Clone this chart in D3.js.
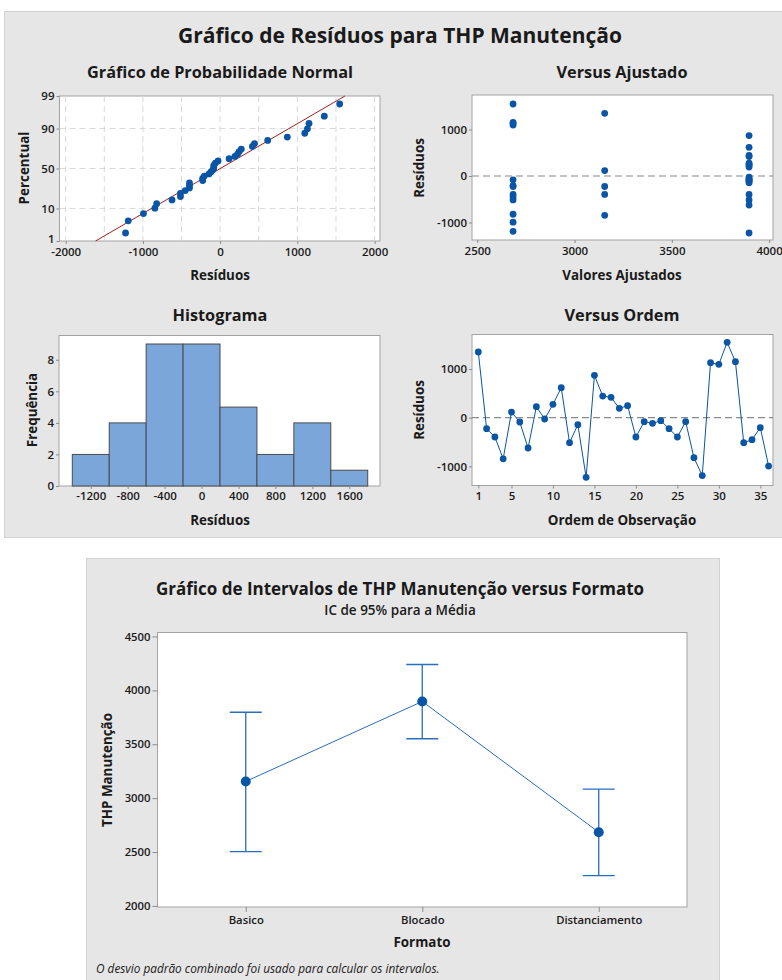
<!DOCTYPE html>
<html>
<head>
<meta charset="utf-8">
<script src="https://cdn.jsdelivr.net/npm/d3@7"></script>
<style>
  body { margin: 0; background: #ffffff; }
  svg { display: block; }
  text { font-family: "Open Sans", "Noto Sans", sans-serif; fill: #1a1a1a; }
</style>
</head>
<body>
<svg id="chart" width="782" height="980"></svg>
<script>
// Residuals in observation order (1..36)
const residuals = [
  1349, -226, -397, -845, 116,
  -89, -623, 226, -27, 274, 616, -514, -144, -1225, 870, 445, 418, 192, 247, -397, -82, -116, -62,
  -226, -397, -82, -822, -1190, 1130, 1096, 1548, 1151, -514, -452, -205, -993
];
// Group (index into formatos) of each observation
const obsGroup = [
  0, 0, 0, 0, 0,
  1, 1, 1, 1, 1, 1, 1, 1, 1, 1, 1, 1, 1, 1, 1, 1, 1, 1,
  2, 2, 2, 2, 2, 2, 2, 2, 2, 2, 2, 2, 2
];
const formatos = ["Basico", "Blocado", "Distanciamento"];
const formatMeans = [3155, 3897, 2684];
const ciLower = [2503, 3551, 2282];
const ciUpper = [3797, 4240, 3084];

const histEdges = [-1400, -1000, -600, -200, 200, 600, 1000, 1400, 1800];
const probTicks = [1, 10, 50, 90, 99];
const probGrid = [-2000, -1500, -1000, -500, 0, 500, 1000, 1500, 2000];
const probXTicks = [-2000, -1000, 0, 1000, 2000];
const fitXTicks = [2500, 3000, 3500, 4000];
const resTicks = [-1000, 0, 1000];
const histXTicks = [-1200, -800, -400, 0, 400, 800, 1200, 1600];
const histYTicks = [0, 2, 4, 6, 8];
const orderTicks = [1, 5, 10, 15, 20, 25, 30, 35];
const thpTicks = [2000, 2500, 3000, 3500, 4000, 4500];

const BLUE = "#0a55a6";
const FRAME = "#a3a3a3";
const PANEL = "#e6e6e6";

const svg = d3.select("#chart");

// Inverse standard normal CDF (Acklam)
function qnorm(p) {
  const a = [-3.969683028665376e+01, 2.209460984245205e+02, -2.759285104469687e+02, 1.383577518672690e+02, -3.066479806614716e+01, 2.506628277459239e+00];
  const b = [-5.447609879822406e+01, 1.615858368580409e+02, -1.556989798598866e+02, 6.680131188771972e+01, -1.328068155288572e+01];
  const c = [-7.784894002430293e-03, -3.223964580411365e-01, -2.400758277161838e+00, -2.549732539343734e+00, 4.374664141464968e+00, 2.938163982698783e+00];
  const d = [7.784695709041462e-03, 3.224671290700398e-01, 2.445134137142996e+00, 3.754408661907416e+00];
  const pl = 0.02425, ph = 1 - pl;
  let q, r;
  if (p < pl) {
    q = Math.sqrt(-2 * Math.log(p));
    return (((((c[0]*q+c[1])*q+c[2])*q+c[3])*q+c[4])*q+c[5]) / ((((d[0]*q+d[1])*q+d[2])*q+d[3])*q+1);
  } else if (p <= ph) {
    q = p - 0.5; r = q * q;
    return (((((a[0]*r+a[1])*r+a[2])*r+a[3])*r+a[4])*r+a[5])*q / (((((b[0]*r+b[1])*r+b[2])*r+b[3])*r+b[4])*r+1);
  } else {
    q = Math.sqrt(-2 * Math.log(1 - p));
    return -(((((c[0]*q+c[1])*q+c[2])*q+c[3])*q+c[4])*q+c[5]) / ((((d[0]*q+d[1])*q+d[2])*q+d[3])*q+1);
  }
}

// ---------- background panels ----------
svg.append("rect").attr("x", 4.5).attr("y", 11.5).attr("width", 790).attr("height", 526)
  .attr("fill", PANEL).attr("stroke", "#d2d2d2");
svg.append("rect").attr("x", 86.5).attr("y", 558.5).attr("width", 633).attr("height", 430)
  .attr("fill", PANEL).attr("stroke", "#d2d2d2");

svg.append("text").attr("x", 400).attr("y", 43).attr("text-anchor", "middle")
  .style("font-size", "21px").style("font-weight", 700)
  .text("Gráfico de Resíduos para THP Manutenção");

// ---------- helpers ----------
function frame(x0, x1, y0, y1) {
  svg.append("rect").attr("x", x0).attr("y", y0).attr("width", x1 - x0).attr("height", y1 - y0)
    .attr("fill", "#ffffff").attr("stroke", FRAME).attr("stroke-width", 1);
}
function styleAxis(g, fs) {
  g.select(".domain").remove();
  g.selectAll(".tick line").attr("stroke", "#8c8c8c");
  g.selectAll(".tick text").style("font-size", fs || "11.5px").style("font-weight", 600)
    .style("font-family", "'Open Sans', sans-serif").attr("fill", "#1a1a1a");
}
function xAxis(scale, ticks, y, fmt, fs, size, pad) {
  const g = svg.append("g").attr("transform", `translate(0,${y})`)
    .call(d3.axisBottom(scale).tickValues(ticks).tickSize(size || 3).tickPadding(pad || 2).tickFormat(fmt || (d => d)));
  styleAxis(g, fs);
  return g;
}
function yAxis(scale, ticks, x, fmt, fs, size) {
  const g = svg.append("g").attr("transform", `translate(${x},0)`)
    .call(d3.axisLeft(scale).tickValues(ticks).tickSize(size || 3).tickPadding(2).tickFormat(fmt || (d => d)));
  styleAxis(g, fs);
  return g;
}
function title(x, y, txt, size) {
  svg.append("text").attr("x", x).attr("y", y).attr("text-anchor", "middle")
    .style("font-size", size || "16.3px").style("font-weight", 700).text(txt);
}
function axisTitle(x, y, txt, rotate) {
  const t = svg.append("text").attr("text-anchor", "middle")
    .style("font-size", "13.4px").style("font-weight", 700).text(txt);
  if (rotate) t.attr("transform", `translate(${x},${y}) rotate(-90)`);
  else t.attr("x", x).attr("y", y);
}

// ---------- Normal probability plot ----------
{
  const X0 = 59.5, X1 = 380, Y0 = 96, Y1 = 241;
  const px = d3.scaleLinear([-2080, 2070], [X0, X1]);
  const pz = d3.scaleLinear([qnorm(0.01), qnorm(0.99)], [Y1, Y0]);
  frame(X0, X1, Y0, Y1);
  const grid = svg.append("g").attr("stroke", "#d9d9d9").attr("stroke-dasharray", "6,4");
  grid.selectAll("line.v").data(probGrid).join("line").attr("class", "v")
    .attr("x1", d => px(d)).attr("x2", d => px(d)).attr("y1", Y0).attr("y2", Y1);
  grid.selectAll("line.h").data([10, 50, 90]).join("line")
    .attr("class", "h").attr("x1", X0).attr("x2", X1)
    .attr("y1", d => pz(qnorm(d / 100))).attr("y2", d => pz(qnorm(d / 100)));

  const n = residuals.length;
  const mean = d3.mean(residuals), sd = d3.deviation(residuals);
  const zLo = qnorm(0.01), zHi = qnorm(0.99);
  svg.append("line")
    .attr("x1", px(mean + sd * zLo)).attr("y1", pz(zLo))
    .attr("x2", px(mean + sd * zHi)).attr("y2", pz(zHi))
    .attr("stroke", "#a31f1f").attr("stroke-width", 1);

  const sorted = residuals.slice().sort((a, b) => a - b);
  svg.append("g").selectAll("circle").data(sorted).join("circle")
    .attr("cx", d => px(d))
    .attr("cy", (d, i) => pz(qnorm((i + 1 - 0.3) / (n + 0.4))))
    .attr("r", 3.4).attr("fill", BLUE);

  xAxis(px, probXTicks, Y1, null, null, 3, 4);
  const zTicks = probTicks.map(p => qnorm(p / 100));
  const ya = yAxis(pz, zTicks, X0, (d, i) => probTicks[i]);
  ya.selectAll(".tick text").attr("dy", (d, i) => i === 0 ? "0.1em" : "0.32em");
  title(220, 78, "Gráfico de Probabilidade Normal");
  axisTitle(220, 280, "Resíduos");
  axisTitle(29, 168, "Percentual", true);
}

// ---------- Versus fits ----------
{
  const X0 = 472, X1 = 773, Y0 = 95, Y1 = 240;
  const fx = d3.scaleLinear([2473, 4020], [X0, X1]);
  const fy = d3.scaleLinear([-1376, 1742], [Y1, Y0]);
  frame(X0, X1, Y0, Y1);
  svg.append("line").attr("x1", X0).attr("x2", X1).attr("y1", fy(0)).attr("y2", fy(0))
    .attr("stroke", "#8a8a8a").attr("stroke-dasharray", "7,4").attr("stroke-width", 1.2);
  svg.append("g").selectAll("circle").data(residuals).join("circle")
    .attr("cx", (d, i) => fx(formatMeans[obsGroup[i]]))
    .attr("cy", d => fy(d))
    .attr("r", 3.4).attr("fill", BLUE);
  xAxis(fx, fitXTicks, Y1, null, null, 3, 4);
  yAxis(fy, resTicks, X0);
  title(622, 78, "Versus Ajustado");
  axisTitle(622, 280, "Valores Ajustados");
  axisTitle(424, 168, "Resíduos", true);
}

// ---------- Histogram ----------
{
  const X0 = 59, X1 = 380, Y0 = 335.5, Y1 = 486;
  const hx = d3.scaleLinear([-1544, 1933], [X0, X1]);
  const hy = d3.scaleLinear([0, 9.54], [Y1, Y0]);
  frame(X0, X1, Y0, Y1);
  const bins = d3.bin().domain([histEdges[0], histEdges[histEdges.length - 1]])
    .thresholds(histEdges.slice(1, -1))(residuals);
  svg.append("g").selectAll("rect").data(bins).join("rect")
    .attr("x", d => hx(d.x0)).attr("width", d => hx(d.x1) - hx(d.x0))
    .attr("y", d => hy(d.length)).attr("height", d => hy(0) - hy(d.length))
    .attr("fill", "#7ba6da").attr("stroke", "#4a4a4a").attr("stroke-width", 1);
  xAxis(hx, histXTicks, Y1, null, null, 3, 3);
  yAxis(hy, histYTicks, X0);
  title(220, 321, "Histograma");
  axisTitle(220, 525, "Resíduos");
  axisTitle(37, 410, "Frequência", true);
}

// ---------- Versus order ----------
{
  const X0 = 472, X1 = 773, Y0 = 334.5, Y1 = 485.5;
  const ox = d3.scaleLinear([0.24, 36.53], [X0, X1]);
  const oy = d3.scaleLinear([-1393, 1709], [Y1, Y0]);
  frame(X0, X1, Y0, Y1);
  svg.append("line").attr("x1", X0).attr("x2", X1).attr("y1", oy(0)).attr("y2", oy(0))
    .attr("stroke", "#8a8a8a").attr("stroke-dasharray", "7,4").attr("stroke-width", 1.2);
  svg.append("path").datum(residuals)
    .attr("d", d3.line().x((d, i) => ox(i + 1)).y(d => oy(d)))
    .attr("fill", "none").attr("stroke", BLUE).attr("stroke-width", 1);
  svg.append("g").selectAll("circle").data(residuals).join("circle")
    .attr("cx", (d, i) => ox(i + 1)).attr("cy", d => oy(d))
    .attr("r", 3.4).attr("fill", BLUE);
  xAxis(ox, orderTicks, Y1, null, null, 3, 3);
  yAxis(oy, resTicks, X0);
  title(622, 321, "Versus Ordem");
  axisTitle(622, 525, "Ordem de Observação");
  axisTitle(424, 410, "Resíduos", true);
}

// ---------- Interval plot ----------
{
  const X0 = 157.5, X1 = 687, Y0 = 632.5, Y1 = 907;
  const ix = d3.scalePoint(formatos, [X0, X1]).padding(0.5);
  const iy = d3.scaleLinear([1990, 4537], [Y1, Y0]);
  frame(X0, X1, Y0, Y1);

  const rows = formatos.map((f, i) => ({ f, mean: formatMeans[i], lo: ciLower[i], hi: ciUpper[i] }));
  const eb = svg.append("g").attr("stroke", "#2a6dbd").attr("stroke-width", 1.3).attr("fill", "none");
  eb.selectAll("line.v").data(rows).join("line").attr("class", "v")
    .attr("x1", d => ix(d.f)).attr("x2", d => ix(d.f)).attr("y1", d => iy(d.lo)).attr("y2", d => iy(d.hi));
  eb.selectAll("line.t").data(rows).join("line").attr("class", "t")
    .attr("x1", d => ix(d.f) - 16).attr("x2", d => ix(d.f) + 16).attr("y1", d => iy(d.hi)).attr("y2", d => iy(d.hi));
  eb.selectAll("line.b").data(rows).join("line").attr("class", "b")
    .attr("x1", d => ix(d.f) - 16).attr("x2", d => ix(d.f) + 16).attr("y1", d => iy(d.lo)).attr("y2", d => iy(d.lo));

  svg.append("path").datum(rows)
    .attr("d", d3.line().x(d => ix(d.f)).y(d => iy(d.mean)))
    .attr("fill", "none").attr("stroke", "#2a6dbd").attr("stroke-width", 1);
  svg.append("g").selectAll("circle").data(rows).join("circle")
    .attr("cx", d => ix(d.f)).attr("cy", d => iy(d.mean)).attr("r", 5).attr("fill", BLUE);

  xAxis(ix, formatos, Y1, null, "11.3px", 5, 4);
  yAxis(iy, thpTicks, X0, null, "11.3px", 5);

  title(400, 595, "Gráfico de Intervalos de THP Manutenção versus Formato", "17px");
  svg.append("text").attr("x", 400).attr("y", 615).attr("text-anchor", "middle")
    .style("font-size", "13.5px").style("font-weight", 600).text("IC de 95% para a Média");
  axisTitle(422, 947, "Formato");
  axisTitle(112, 770, "THP Manutenção", true);
  svg.append("text").attr("x", 96).attr("y", 973)
    .style("font-size", "11.8px").style("font-style", "italic")
    .text("O desvio padrão combinado foi usado para calcular os intervalos.");
}
</script>
</body>
</html>
